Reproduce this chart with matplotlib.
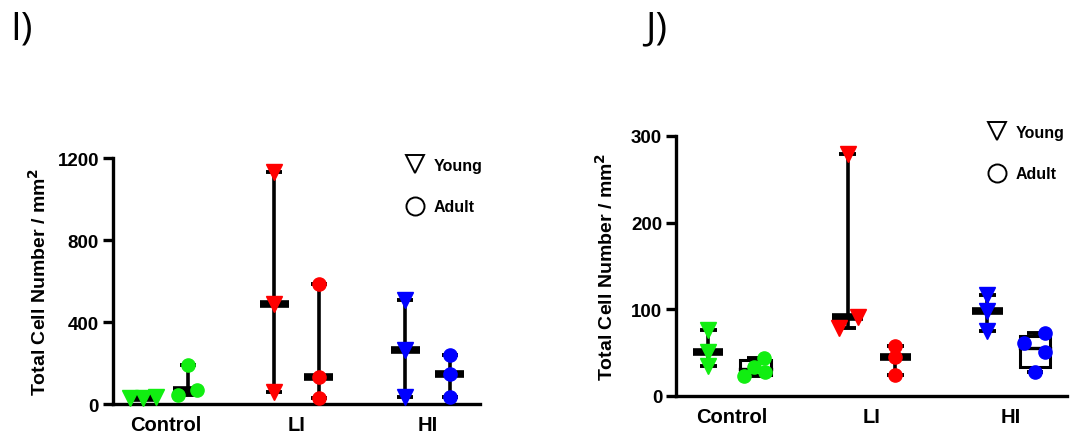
"""Total cell number per mm2, young vs adult, two panels (I and J)"""
import numpy as np
import matplotlib
matplotlib.use("Agg")
import matplotlib.pyplot as plt
from matplotlib.lines import Line2D
from matplotlib.patches import Rectangle

plt.rcParams.update({
    "font.family": ["Liberation Sans", "DejaVu Sans"],
    "font.weight": "bold",
    "axes.linewidth": 2.4,
})

GROUPS = ["Control", "LI", "HI"]
COLORS = ["#11ee11", "#ff0000", "#0000ff"]

# panel I
i_young = [[28, 30, 32], [1130, 490, 60], [507, 265, 35]]
i_adult = [[44, 190, 68], [585, 130, 29], [239, 146, 34]]
# panel J
j_young = [[76, 51, 35], [279, 91, 79], [116, 98, 75]]
j_adult = [[23.5, 34, 43.5, 27.3], [58, 45, 24], [61, 72.7, 50.4, 28]]

# horizontal scatter of overlapping points (group units)
i_young_jit = [[-0.1, 0, 0.1], [0, 0, 0], [0, 0, 0]]
i_adult_jit = [[-0.075, 0, 0.07], [0, 0, 0], [0, 0, 0]]
j_young_jit = [[0, 0, 0], [0, 0.07, -0.065], [0, 0, 0]]
j_adult_jit = [[-0.085, -0.015, 0.06, 0.065], [0, 0, 0], [-0.08, 0.07, 0.07, 0]]

OFFSET = 0.17


def draw_group(ax, x, vals, jit, color, marker, ms):
    vals = np.asarray(vals, dtype=float)
    lo, hi, med = vals.min(), vals.max(), np.median(vals)
    ax.plot([x, x], [lo, hi], color="black", lw=2.6, zorder=2, solid_capstyle="butt")
    for v in (lo, hi):
        ax.plot([x - 0.06, x + 0.06], [v, v], color="black", lw=2.8, zorder=2,
                solid_capstyle="butt")
    if len(vals) >= 4:
        q1, q3 = np.percentile(vals, [25, 75], method="weibull")
        ax.add_patch(Rectangle((x - 0.11, q1), 0.22, q3 - q1, facecolor="white",
                               edgecolor="black", lw=2.2, zorder=3))
        ax.plot([x - 0.11, x + 0.11], [med, med], color="black", lw=2.4, zorder=3)
    else:
        ax.plot([x - 0.11, x + 0.11], [med, med], color="black", lw=5.5, zorder=3,
                solid_capstyle="butt")
    ax.plot(x + np.asarray(jit), vals, ls="none", marker=marker, ms=ms,
            color=color, mec=color, zorder=4, clip_on=False)


def style_axes(ax, ymax, step, label_x):
    ax.set_xlim(-0.40, 2.40)
    ax.set_ylim(0, ymax)
    ax.set_yticks(np.arange(0, ymax + 1, step))
    ax.set_xticks(range(len(GROUPS)))
    ax.set_xticklabels(GROUPS, fontsize=14.5, fontweight="bold")
    ax.tick_params(axis="x", length=0, pad=8)
    ax.tick_params(axis="y", length=7, width=2.4, labelsize=13.5, pad=3)
    for lab in ax.get_yticklabels():
        lab.set_fontweight("bold")
    ax.spines["top"].set_visible(False)
    ax.spines["right"].set_visible(False)
    ax.set_ylabel("Total Cell Number / mm$^{\\mathbf{2}}$", fontsize=14,
                  fontweight="bold")
    ax.yaxis.set_label_coords(label_x, 0.5)


def add_legend(ax, top):
    handles = [
        Line2D([], [], ls="none", marker="v", ms=13, mfc="white", mec="black", mew=1.4),
        Line2D([], [], ls="none", marker="o", ms=13, mfc="white", mec="black", mew=1.4),
    ]
    leg = ax.legend(handles, ["Young", "Adult"], loc="upper left",
                    bbox_to_anchor=(0.795, top), frameon=False, borderpad=0,
                    borderaxespad=0, handlelength=1.3, handletextpad=0.5,
                    labelspacing=1.65, prop={"size": 11.5, "weight": "bold"})
    return leg


fig = plt.figure(figsize=(10.71, 4.39), dpi=100)
ax1 = fig.add_axes([0.1055, 0.0774, 0.3427, 0.5604])
ax2 = fig.add_axes([0.6312, 0.0957, 0.3651, 0.5923])

for k in range(len(GROUPS)):
    draw_group(ax1, k - OFFSET, i_young[k], i_young_jit[k], COLORS[k], "v", 11)
    draw_group(ax1, k + OFFSET, i_adult[k], i_adult_jit[k], COLORS[k], "o", 9.5)
    draw_group(ax2, k - OFFSET, j_young[k], j_young_jit[k], COLORS[k], "v", 11)
    draw_group(ax2, k + OFFSET, j_adult[k], j_adult_jit[k], COLORS[k], "o", 9.5)

style_axes(ax1, 1200, 400, -0.172)
style_axes(ax2, 300, 100, -0.151)
add_legend(ax1, 1.0)
add_legend(ax2, 1.043)

fig.text(0.0093, 0.911, "I)", fontsize=28, fontweight="normal",
         family=["Open Sans", "DejaVu Sans"], va="baseline")
fig.text(0.602, 0.911, "J)", fontsize=28, fontweight="normal",
         family=["Open Sans", "DejaVu Sans"], va="baseline")

fig.savefig("out.png", dpi=100)
